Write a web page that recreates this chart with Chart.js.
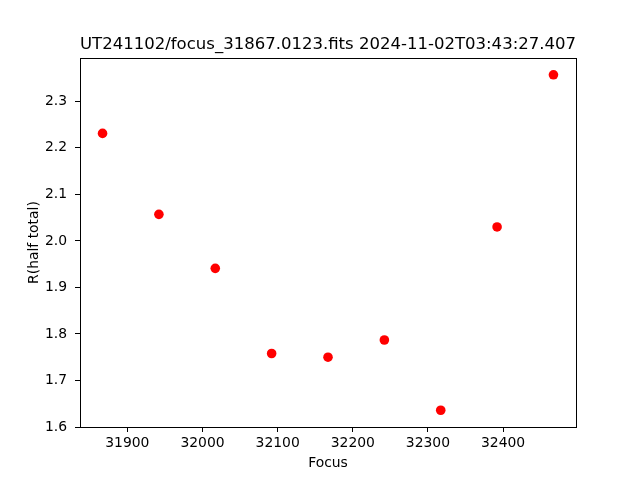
<!DOCTYPE html>
<html>
<head>
<meta charset="utf-8">
<script src="https://cdn.jsdelivr.net/npm/chart.js@4.4.1/dist/chart.umd.min.js"></script>
<style>
  html, body { margin: 0; padding: 0; background: #fff; }
  #wrap { width: 640px; height: 480px; }
</style>
</head>
<body>
<div id="wrap"><canvas id="focusChart" width="640" height="480"></canvas></div>
<script>
// focus positions and measured half-total radius
const focus = [31867, 31942, 32017, 32092, 32167, 32242, 32317, 32392, 32467];
const rHalf = [2.231, 2.057, 1.941, 1.758, 1.750, 1.787, 1.636, 2.030, 2.357];
const xTicks = [31900, 32000, 32100, 32200, 32300, 32400];
const yTicks = [1.6, 1.7, 1.8, 1.9, 2.0, 2.1, 2.2, 2.3];

const FONT = 'DejaVu Sans';

// matplotlib-style box round the axes
const frame = {
  id: 'frame',
  afterDraw(chart) {
    const { ctx, chartArea: a } = chart;
    ctx.save();
    ctx.strokeStyle = '#000';
    ctx.lineWidth = 1;
    ctx.strokeRect(Math.round(a.left) + 0.5, Math.round(a.top) + 0.5,
      Math.round(a.right - a.left), Math.round(a.bottom - a.top));
    ctx.restore();
  }
};

const ctx = document.getElementById('focusChart').getContext('2d');
new Chart(ctx, {
  type: 'scatter',
  data: {
    datasets: [{
      label: 'R(half total)',
      data: focus.map((f, i) => ({ x: f, y: rHalf[i] })),
      backgroundColor: '#ff0000',
      borderColor: '#ff0000',
      pointRadius: 4.8,
      pointBorderWidth: 0,
      pointHoverRadius: 4.8
    }]
  },
  options: {
    responsive: false,
    animation: false,
    events: [],
    layout: { padding: { left: 22, right: 64, top: 0, bottom: 4 } },
    plugins: {
      legend: { display: false },
      tooltip: { enabled: false },
      title: {
        display: true,
        fullSize: false,
        text: 'UT241102/focus_31867.0123.fits 2024-11-02T03:43:27.407',
        color: '#000',
        font: { family: FONT, size: 16.7, weight: 'normal' },
        padding: { top: 35, bottom: 3 }
      }
    },
    scales: {
      x: {
        type: 'linear',
        min: 31837,
        max: 32497,
        afterBuildTicks: s => { s.ticks = xTicks.map(v => ({ value: v })); },
        afterFit: s => { s.height = 49; },
        grid: { drawOnChartArea: false, drawTicks: true, tickLength: 5, color: '#000' },
        border: { display: true, color: '#000' },
        ticks: {
          color: '#000',
          padding: 3,
          maxRotation: 0,
          font: { family: FONT, size: 13.9 },
          callback: v => String(v)
        },
        title: {
          display: true,
          text: 'Focus',
          color: '#000',
          font: { family: FONT, size: 13.9 },
          padding: { top: 2, bottom: 4 }
        }
      },
      y: {
        type: 'linear',
        min: 1.6,
        max: 2.393,
        afterBuildTicks: s => { s.ticks = yTicks.map(v => ({ value: v })); },
        afterFit: s => { s.width = 58; },
        grid: { drawOnChartArea: false, drawTicks: true, tickLength: 5, color: '#000' },
        border: { display: true, color: '#000' },
        ticks: {
          color: '#000',
          padding: 8,
          font: { family: FONT, size: 13.9 },
          callback: v => v.toFixed(1)
        },
        title: {
          display: true,
          text: 'R(half total)',
          color: '#000',
          font: { family: FONT, size: 13.9 },
          padding: { top: 4, bottom: 4 }
        }
      }
    }
  },
  plugins: [frame]
});
</script>
</body>
</html>
